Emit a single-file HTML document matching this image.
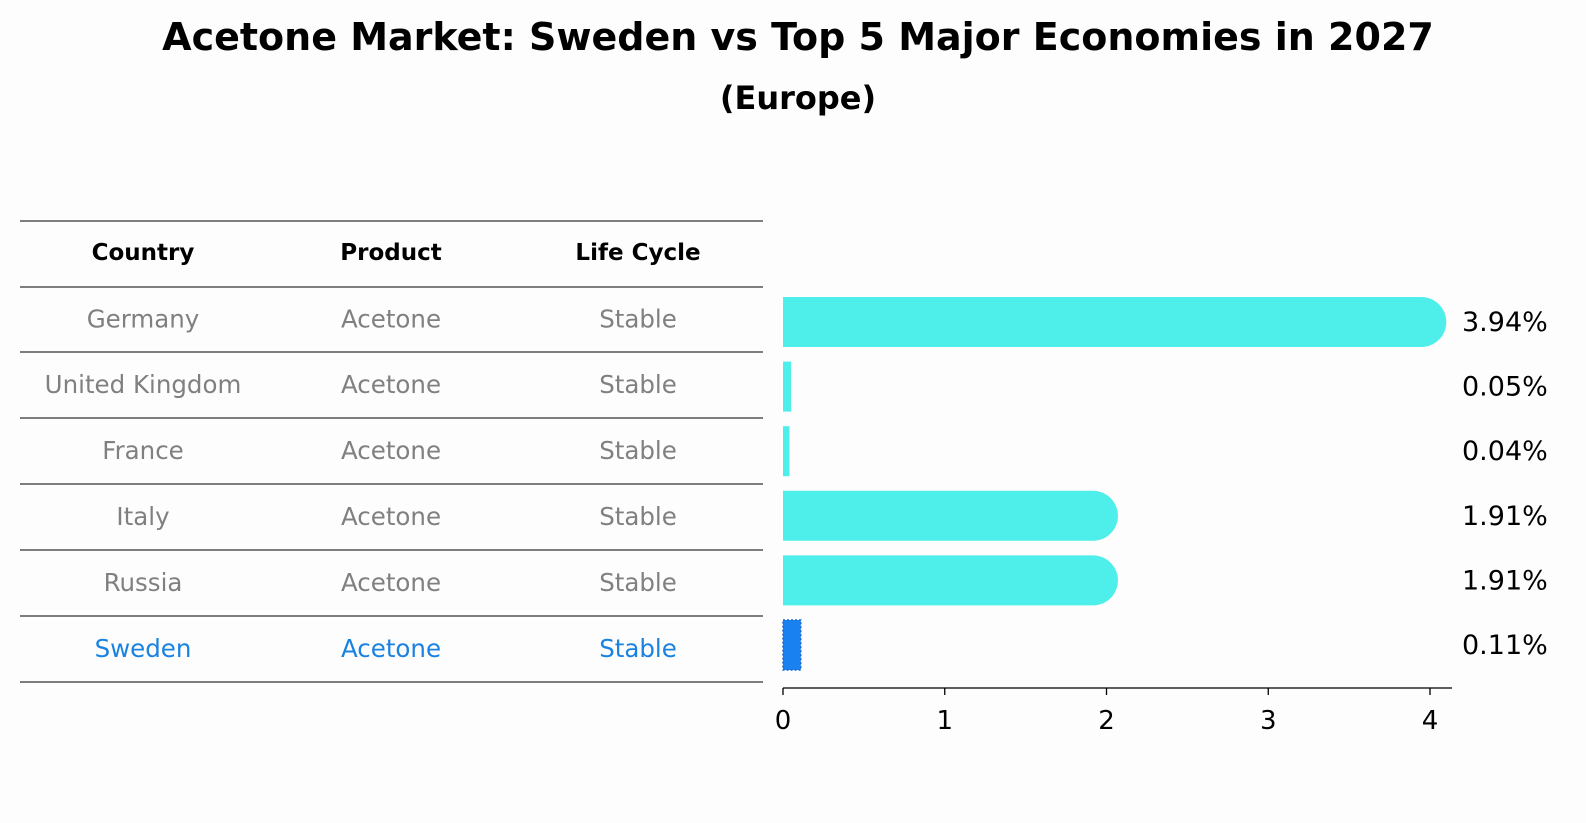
<!DOCTYPE html>
<html><head><meta charset="utf-8"><style>
body{margin:0;background:#fdfdfd;}
svg{display:block;font-family:"DejaVu Sans","Liberation Sans",sans-serif;}
</style></head><body>
<svg id="c" width="1586" height="823">
<text x="798" y="50" text-anchor="middle" font-size="38" font-weight="bold">Acetone Market: Sweden vs Top 5 Major Economies in 2027</text>
<text x="798" y="109" text-anchor="middle" font-size="32" font-weight="bold">(Europe)</text>
<g id="table"></g>
<g id="bars"></g>
<g id="axis"></g>
</svg>
<script>
const countries=["Germany","United Kingdom","France","Italy","Russia","Sweden"];
const products=["Acetone","Acetone","Acetone","Acetone","Acetone","Acetone"];
const lifecycle=["Stable","Stable","Stable","Stable","Stable","Stable"];
const values=[3.94,0.05,0.04,1.91,1.91,0.11];
const ticks=[0,1,2,3,4];
const NS="http://www.w3.org/2000/svg";
function mk(t,a,p){const e=document.createElementNS(NS,t);for(const k in a)e.setAttribute(k,a[k]);p.appendChild(e);return e;}
const x=v=>783+v*161.75;
const rowY=i=>322+i*64.6;
const tbl=document.getElementById('table');
const lineYs=[221,287,352,418,484,550,616,682];
lineYs.forEach(y=>{const l=mk('line',{x1:20,x2:763,y1:y,y2:y,stroke:'#000','stroke-width':1},tbl);

});
const cols=[143,391,638];
["Country","Product","Life Cycle"].forEach((h,j)=>{const t=mk('text',{x:cols[j],y:260,'text-anchor':'middle','font-size':23,'font-weight':'bold'},tbl);t.textContent=h;

});
for(let i=0;i<countries.length;i++){
 const cy=(lineYs[i+1]+lineYs[i+2])/2+8;
 const col=countries[i]==="Sweden"?"#1a82e0":"#808080";
 [countries[i],products[i],lifecycle[i]].forEach((s,j)=>{const t=mk('text',{x:cols[j],y:cy,'text-anchor':'middle','font-size':24.5,fill:col},tbl);t.textContent=s;
 
 });
}
const bg=document.getElementById('bars');
for(let i=0;i<values.length;i++){
 const y0=rowY(i)-25,h=50,x0=x(0),x1=x(values[i]);
 const sw=countries[i]==="Sweden";
 let el;
 if(values[i]>1){
  const r=25,xe=x1+26;
  el=mk('path',{d:`M${x0},${y0} H${xe-r} A${r},${r} 0 0 1 ${xe-r},${y0+h} H${x0} Z`,fill:'#4eeeea'},bg);
 } else {
  el=mk('rect',{x:x0,y:y0,width:Math.max(1,x1-x0),height:h,fill:sw?'#1a82f0':'#4eeeea',stroke:sw?'#1a6ad0':'none','stroke-dasharray':sw?'2,2':'none','stroke-width':sw?1.5:0},bg);
 }
 
 
 const t=mk('text',{x:1462,y:rowY(i)+9,'font-size':27},bg);t.textContent=values[i].toFixed(2)+'%';
 
 
}
const ax=document.getElementById('axis');
const al=mk('line',{x1:783,x2:1452,y1:688,y2:688,stroke:'#000','stroke-width':1.3},ax);


ticks.forEach(v=>{const tk=mk('line',{x1:x(v),x2:x(v),y1:688,y2:695,stroke:'#000','stroke-width':1.3},ax);


const t=mk('text',{x:x(v),y:729,'text-anchor':'middle','font-size':26},ax);t.textContent=v;

});
</script>
</body></html>
